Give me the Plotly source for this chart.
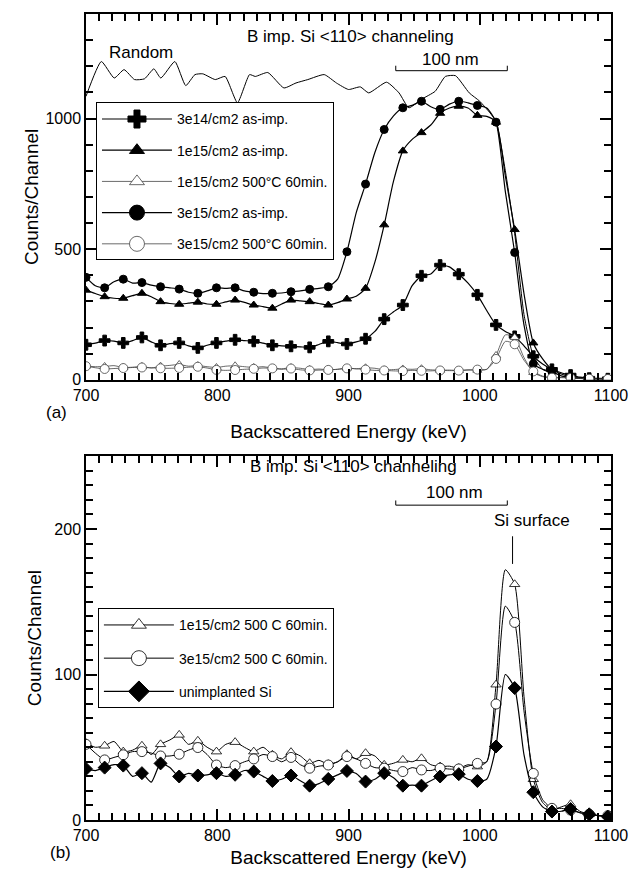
import plotly.graph_objects as go

# ---------------- data ----------------
E = [700.0, 707.1, 714.2, 721.3, 728.4, 735.5, 742.6, 749.7, 756.8, 763.9,
     771.0, 778.1, 785.2, 792.3, 799.4, 806.5, 813.6, 820.7, 827.8, 834.9,
     842.0, 849.1, 856.2, 863.3, 870.4, 877.5, 884.6, 891.7, 898.8, 905.9,
     913.0, 920.1, 927.2, 934.3, 941.4, 948.5, 955.6, 962.7, 969.8, 976.9,
     984.0, 991.1, 998.2, 1005.3, 1012.4, 1019.5, 1026.6, 1033.7, 1040.8, 1047.9,
     1055.0, 1062.1, 1069.2, 1076.3, 1083.4, 1090.5, 1097.6]

# panel (a): as-implanted spectra
a_3e14_asimp = [134, 140, 150, 148, 141, 150, 162, 145, 132, 138,
                141, 130, 122, 132, 141, 148, 153, 150, 147, 140,
                132, 130, 128, 126, 124, 135, 147, 142, 137, 145,
                157, 185, 232, 260, 286, 360, 398, 405, 439, 432,
                404, 370, 325, 265, 210, 185, 166, 130, 90, 60,
                40, 27, 18, 10, 6, 5, 4]
a_1e15_asimp = [343, 330, 318, 312, 312, 322, 331, 318, 299, 292,
                289, 293, 297, 290, 289, 298, 305, 296, 286, 280,
                274, 290, 305, 302, 299, 292, 286, 295, 309, 320,
                350, 450, 593, 760, 876, 920, 946, 975, 1020, 1040,
                1047, 1040, 1012, 1008, 986, 780, 575, 330, 141, 80,
                40, 22, 12, 8, 5, 4, 3]
a_3e15_asimp = [392, 360, 352, 375, 385, 370, 372, 362, 356, 352,
                347, 335, 331, 340, 352, 350, 352, 340, 335, 330,
                331, 332, 337, 340, 346, 350, 356, 385, 490, 640,
                749, 870, 958, 1010, 1041, 1050, 1066, 1045, 1035, 1055,
                1066, 1060, 1050, 1040, 986, 720, 487, 210, 61, 40,
                30, 15, 8, 5, 4, 3, 3]

random_E = [700, 711.7, 721.5, 729, 737, 744.6, 751.7, 757, 767.7, 776,
            783, 789, 798.5, 806, 815.4, 824.6, 829, 838.5, 850.8, 860,
            869, 881.5, 890.8, 900, 909, 915.4, 929, 938.5, 946, 955.4,
            966, 973.8, 981.5, 992, 1000, 1007.7, 1012.4, 1019.5, 1026.6, 1033.7,
            1040.8, 1047.9, 1055]
random_counts = [1085, 1218, 1155, 1187, 1149, 1152, 1190, 1155, 1218, 1126,
                 1168, 1171, 1149, 1161, 1060, 1168, 1161, 1176, 1117, 1136,
                 1149, 1168, 1136, 1111, 1121, 1098, 1139, 1098, 1041, 1073,
                 1104, 1161, 1164, 1098, 1066, 1022, 990, 800, 560, 250,
                 90, 40, 25]

# panel (b): annealed + unimplanted (annealed also shown in panel (a))
b_1e15_500C = [52.8, 50, 51, 54, 47, 48, 51, 45, 52, 55,
               58.5, 52, 54.4, 50, 47, 52, 53.5, 50, 47, 50,
               44.8, 42, 46.6, 44, 39, 41, 38.3, 40, 45.2, 42,
               45.9, 44, 37.9, 39, 41.3, 40, 42.4, 38, 36.7, 37,
               35.6, 38, 36.7, 40, 93, 172, 162, 85, 28, 12,
               7, 9, 10.8, 6, 4, 3, 3]
b_3e15_500C = [52, 46, 41.3, 43, 44.8, 47, 47, 46, 44, 44,
               45.2, 48, 49.8, 45, 37.8, 36, 37.4, 40, 42, 45,
               43.6, 40, 43, 38, 35.6, 37, 37.8, 40, 43.6, 42,
               38.9, 36, 35.6, 34, 33.3, 36, 34.4, 34, 35.6, 35,
               35.1, 37, 38.9, 40, 79.7, 147, 135.8, 75, 32, 14,
               8, 8, 6.8, 5, 4, 3, 3]
b_unimplanted = [35.1, 34, 36, 38, 37.4, 30, 32.2, 26, 38.9, 36,
                 29.9, 32, 30.6, 31, 32.2, 30, 31.1, 34, 33.3, 30,
                 26.8, 28, 30.6, 27, 23.6, 25, 28.2, 31, 33.7, 32,
                 26.4, 28, 32.2, 29, 23.6, 24, 23.6, 27, 29.9, 31,
                 31.5, 28, 26.8, 28, 50.5, 100, 90.7, 45, 19.1, 9,
                 5.8, 6, 7.5, 5, 3.9, 3, 2.3]

legend_a = ["3e14/cm2 as-imp.", "1e15/cm2 as-imp.", "1e15/cm2 500°C 60min.",
            "3e15/cm2 as-imp.", "3e15/cm2 500°C 60min."]
legend_b = ["1e15/cm2 500 C 60min.", "3e15/cm2 500 C 60min.", "unimplanted Si"]

# ---------------- figure ----------------
FONT = "Liberation Sans, Arial, sans-serif"
fig = go.Figure()


def add_series(x, y, name, symbol, msize, lsize, lcolor, lwidth, xa, ya, legend,
               filled=True, mlw=1.0):
    mcolor = "black" if filled else "white"
    mline = "black" if filled else lcolor
    fig.add_trace(go.Scatter(x=x, y=y, mode="lines", xaxis=xa, yaxis=ya,
                             line=dict(color=lcolor, width=lwidth, shape="spline", smoothing=0.6),
                             showlegend=False, hoverinfo="skip"))
    fig.add_trace(go.Scatter(x=x[::2], y=y[::2], mode="markers", xaxis=xa, yaxis=ya,
                             marker=dict(symbol=symbol, size=msize, color=mcolor,
                                         line=dict(color=mline, width=mlw)),
                             showlegend=False, name=name))
    fig.add_trace(go.Scatter(x=[None], y=[None], mode="lines+markers", xaxis=xa, yaxis=ya,
                             name=name, legend=legend, legendgroup=name,
                             line=dict(color=lcolor, width=lwidth),
                             marker=dict(symbol=symbol, size=lsize, color=mcolor,
                                         line=dict(color=mline, width=mlw))))


# panel (a)
fig.add_trace(go.Scatter(x=random_E, y=random_counts, mode="lines", xaxis="x", yaxis="y",
                         line=dict(color="black", width=1, shape="spline", smoothing=0.5),
                         showlegend=False, name="Random"))
add_series(E, a_3e14_asimp, legend_a[0], "cross", 9, 15, "black", 1.2, "x", "y", "legend")
add_series(E, a_1e15_asimp, legend_a[1], "triangle-up", 8, 13, "black", 1.2, "x", "y", "legend")
add_series(E, b_1e15_500C, legend_a[2], "triangle-up", 8, 13, "#444444", 0.8, "x", "y", "legend",
           filled=False, mlw=0.8)
add_series(E, a_3e15_asimp, legend_a[3], "circle", 8, 15, "black", 1.2, "x", "y", "legend")
add_series(E, b_3e15_500C, legend_a[4], "circle", 9, 15, "#444444", 0.8, "x", "y", "legend",
           filled=False, mlw=0.8)

# panel (b)
add_series(E, b_1e15_500C, legend_b[0], "triangle-up", 9, 13, "black", 1.0, "x2", "y2", "legend2",
           filled=False, mlw=0.8)
add_series(E, b_3e15_500C, legend_b[1], "circle", 10, 15, "black", 1.0, "x2", "y2", "legend2",
           filled=False, mlw=0.8)
add_series(E, b_unimplanted, legend_b[2], "diamond", 10, 16, "black", 1.2, "x2", "y2", "legend2")

fig.update_layout(
    width=640, height=877, paper_bgcolor="white", plot_bgcolor="white",
    margin=dict(l=86, r=26, t=14, b=52),
    font=dict(family=FONT),
    xaxis=dict(domain=[0, 1], anchor="y",
               title=dict(text="Backscattered Energy (keV)", font=dict(size=19, color="black"), standoff=22)),
    yaxis=dict(domain=[0.5462, 1], anchor="x", range=[0, 1400], dtick=500,
               minor=dict(dtick=100),
               title=dict(text="Counts/Channel", font=dict(size=19, color="black"), standoff=2)),
    xaxis2=dict(domain=[0, 1], anchor="y2",
                title=dict(text="Backscattered Energy (keV)", font=dict(size=19, color="black"), standoff=8)),
    yaxis2=dict(domain=[0, 0.4513], anchor="x2", range=[0, 250], dtick=100,
                minor=dict(dtick=10),
                title=dict(text="Counts/Channel", font=dict(size=19, color="black"), standoff=8)),
    legend=dict(x=0.019, y=0.8903, xanchor="left", yanchor="top", bgcolor="white",
                bordercolor="black", borderwidth=1, font=dict(size=14, family=FONT, color="black"),
                traceorder="grouped", tracegroupgap=10, itemwidth=70),
    legend2=dict(x=0.0227, y=0.2626, xanchor="left", yanchor="top", bgcolor="white",
                 bordercolor="black", borderwidth=1, font=dict(size=14, family=FONT, color="black"),
                 traceorder="grouped", tracegroupgap=12, itemwidth=70),
)

fig.update_xaxes(range=[700, 1100], dtick=100, ticks="inside", ticklen=11, tickwidth=2,
                 tickcolor="black",
                 minor=dict(dtick=10, ticklen=7, ticks="inside", tickwidth=1.5, tickcolor="black"),
                 showline=True, linecolor="black", linewidth=1.5, mirror="ticks", showgrid=False,
                 zeroline=False, tickfont=dict(size=16, color="black", family=FONT))
fig.update_yaxes(ticks="inside", ticklen=11, tickwidth=2, tickcolor="black",
                 minor=dict(ticklen=7, ticks="inside", tickwidth=1.5, tickcolor="black"),
                 showline=True, linecolor="black", linewidth=1.5, mirror="ticks", showgrid=False,
                 zeroline=False, tickfont=dict(size=16, color="black", family=FONT))

ann = dict(showarrow=False, font=dict(size=17, family=FONT, color="black"))
fig.add_annotation(x=901.5, y=1312, xref="x", yref="y", text="B imp. Si <110> channeling", **ann)
fig.add_annotation(x=741.7, y=1251, xref="x", yref="y", text="Random", **ann)
fig.add_annotation(x=978, y=1225, xref="x", yref="y", text="100 nm", **ann)
fig.add_annotation(x=903.8, y=243, xref="x2", yref="y2", text="B imp. Si <110> channeling", **ann)
fig.add_annotation(x=981, y=225.4, xref="x2", yref="y2", text="100 nm", **ann)
fig.add_annotation(x=1040, y=206, xref="x2", yref="y2", text="Si surface", **ann)
fig.add_annotation(x=-0.0795, y=0.5055, xref="paper", yref="paper", text="(a)", **ann)
fig.add_annotation(x=-0.072, y=-0.0543, xref="paper", yref="paper", text="(b)", **ann)

fig.add_shape(type="path", xref="x", yref="y", path="M936,1202 L936,1183 L1021,1183 L1021,1202",
              line=dict(color="black", width=1))
fig.add_shape(type="path", xref="x2", yref="y2", path="M936,219.6 L936,216.4 L1021,216.4 L1021,219.6",
              line=dict(color="black", width=1))
fig.add_shape(type="line", xref="x2", yref="y2", x0=1025, x1=1025, y0=176, y1=195,
              line=dict(color="black", width=1))

fig.write_html("out.html", config={"displayModeBar": False},
               post_script="document.body.style.margin='0';document.body.style.overflow='hidden';")
